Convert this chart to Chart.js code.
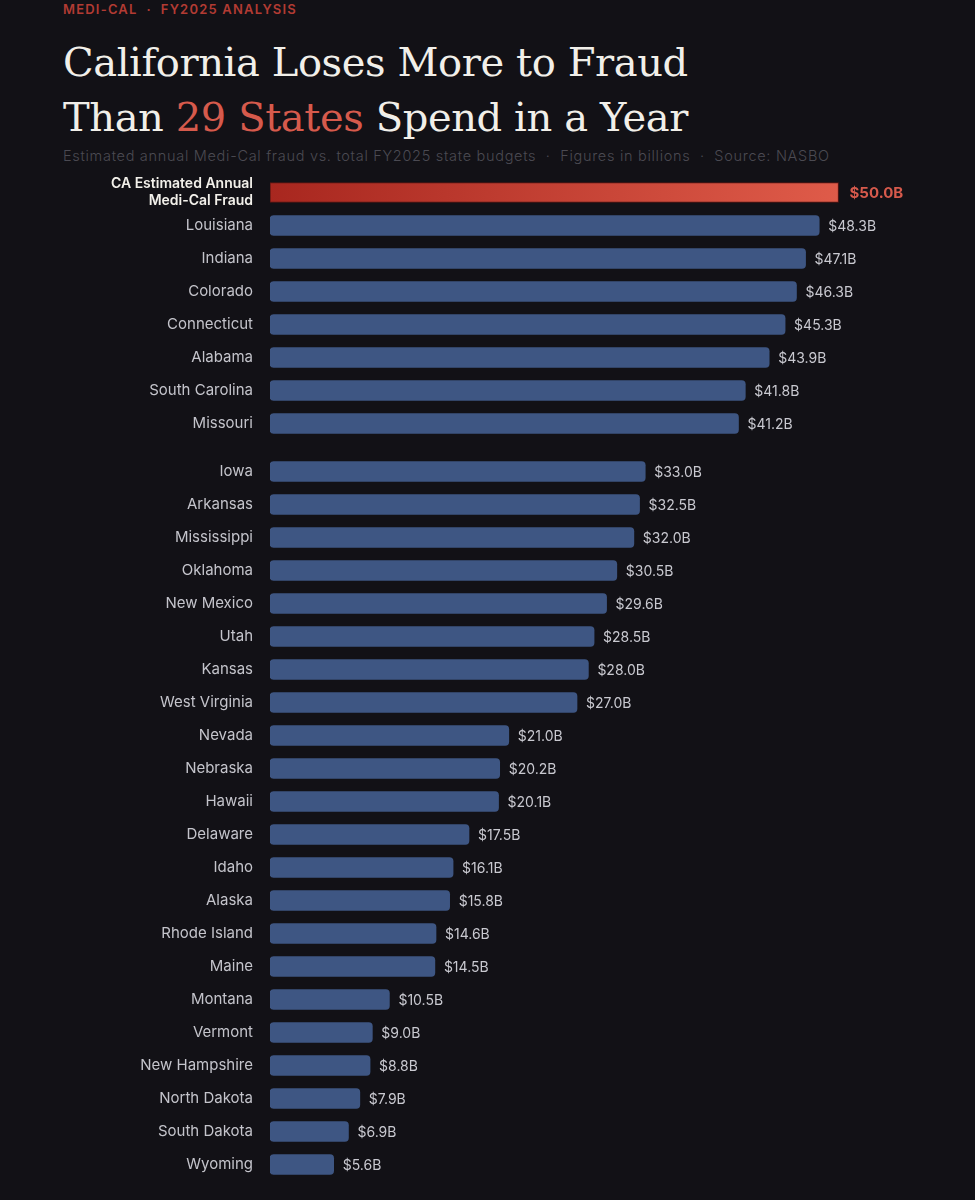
<!DOCTYPE html>
<html>
<head>
<meta charset="utf-8">
<script src="https://cdn.jsdelivr.net/npm/chart.js@4/dist/chart.umd.min.js"></script>
<style>
  body { margin: 0; background: #121116; width: 975px; height: 1200px; overflow: hidden; position: relative; font-family: Inter, "Noto Sans", sans-serif; }
  #kicker { position: absolute; left: 63px; top: 1px; color: #b23b33; font-size: 13px; font-weight: 600; letter-spacing: 1.2px; }
  #title { position: absolute; left: 63px; top: 35px; color: #f1efe9; font-family: "DejaVu Serif", serif; font-size: 40px; line-height: 55px; letter-spacing: -0.4px; }
  #title span { color: #d65a4c; }
  #sub { position: absolute; left: 63px; top: 147px; color: #4b4a52; font-size: 14.5px; font-weight: 300; letter-spacing: 0.7px; }
  .box { position: absolute; left: 0; width: 975px; }
</style>
</head>
<body>
<div id="kicker">MEDI-CAL &nbsp;·&nbsp; FY2025 ANALYSIS</div>
<div id="title">California Loses More to Fraud<br>Than <span>29 States</span> Spend in a Year</div>
<div id="sub">Estimated annual Medi-Cal fraud vs. total FY2025 state budgets &nbsp;·&nbsp; Figures in billions &nbsp;·&nbsp; Source: NASBO</div>
<div class="box" style="top:175.5px;height:264px"><canvas id="topChart"></canvas></div>
<div class="box" style="top:454.5px;height:726px"><canvas id="bottomChart"></canvas></div>
<script>
// top group: CA fraud estimate + states above $40B
const topLabels = [["CA Estimated Annual", "Medi-Cal Fraud"], "Louisiana", "Indiana", "Colorado", "Connecticut", "Alabama", "South Carolina", "Missouri"];
const topValues = [50.0, 48.3, 47.1, 46.3, 45.3, 43.9, 41.8, 41.2];

// bottom group
const bottomLabels = ["Iowa", "Arkansas", "Mississippi", "Oklahoma", "New Mexico", "Utah", "Kansas", "West Virginia", "Nevada", "Nebraska", "Hawaii", "Delaware", "Idaho", "Alaska", "Rhode Island", "Maine", "Montana", "Vermont", "New Hampshire", "North Dakota", "South Dakota", "Wyoming"];
const bottomValues = [33.0, 32.5, 32.0, 30.5, 29.6, 28.5, 28.0, 27.0, 21.0, 20.2, 20.1, 17.5, 16.1, 15.8, 14.6, 14.5, 10.5, 9.0, 8.8, 7.9, 6.9, 5.6];

const xMax = 62;
const blue = '#3e5683';

const valueLabels = {
  id: 'valueLabels',
  afterDatasetsDraw(chart) {
    const ctx = chart.ctx;
    const meta = chart.getDatasetMeta(0);
    const isTop = chart.canvas.id === 'topChart';
    ctx.save();
    ctx.textBaseline = 'middle';
    meta.data.forEach((bar, i) => {
      const v = chart.data.datasets[0].data[i];
      const hl = isTop && i === 0;
      ctx.font = hl ? '700 15px Inter, sans-serif' : '400 14px Inter, sans-serif';
      ctx.fillStyle = hl ? '#d65a4c' : '#c9c9d0';
      ctx.fillText('$' + v.toFixed(1) + 'B', bar.x + (hl ? 11 : 9), bar.y + 1);
    });
    ctx.restore();
  }
};

function makeChart(id, labels, values, isTop) {
  const ctx = document.getElementById(id);
  return new Chart(ctx, {
    type: 'bar',
    data: {
      labels: labels,
      datasets: [{
        data: values,
        barThickness: 20,
        backgroundColor: (c) => {
          if (!(isTop && c.dataIndex === 0)) return blue;
          const area = c.chart.chartArea;
          if (!area) return '#c0392b';
          const g = c.chart.ctx.createLinearGradient(area.left, 0, c.chart.scales.x.getPixelForValue(50), 0);
          g.addColorStop(0, '#a8271f');
          g.addColorStop(1, '#df5b49');
          return g;
        },
        borderColor: (c) => (isTop && c.dataIndex === 0) ? '#5e1612' : blue,
        borderWidth: (c) => (isTop && c.dataIndex === 0) ? 1 : 0,
        borderRadius: (c) => (isTop && c.dataIndex === 0) ? 0 : 4,
        borderSkipped: false
      }]
    },
    options: {
      indexAxis: 'y',
      responsive: true,
      maintainAspectRatio: false,
      animation: false,
      layout: { padding: 0 },
      plugins: { legend: { display: false }, tooltip: { enabled: false } },
      scales: {
        x: { display: false, min: 0, max: xMax },
        y: {
          grid: { display: false, drawTicks: false },
          border: { display: false },
          afterFit: (s) => { s.width = 270; s.paddingTop = 0; s.paddingBottom = 0; },
          ticks: {
            autoSkip: false,
            padding: 17,
            color: (c) => (isTop && c.index === 0) ? '#f2f0ea' : '#c4c4cb',
            font: (c) => (isTop && c.index === 0)
              ? { family: 'Inter, sans-serif', size: 14, weight: '600', lineHeight: 1.2 }
              : { family: 'Inter, sans-serif', size: 15, weight: '400' }
          }
        }
      }
    },
    plugins: [valueLabels]
  });
}

makeChart('topChart', topLabels, topValues, true);
makeChart('bottomChart', bottomLabels, bottomValues, false);
</script>
</body>
</html>
